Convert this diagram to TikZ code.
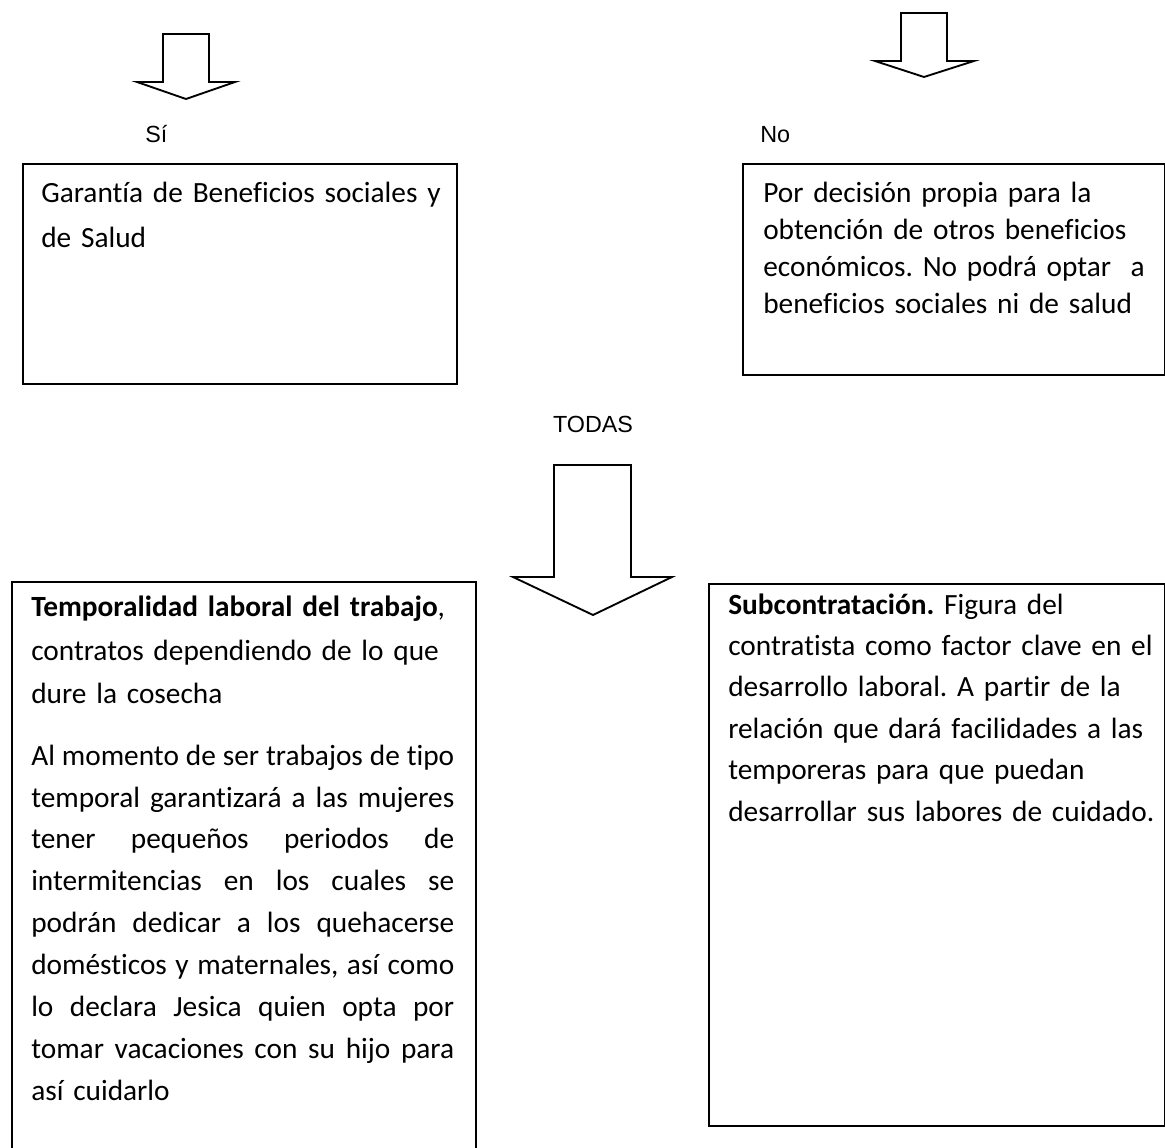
\documentclass[tikz,border=0pt]{standalone}
\usepackage{fontspec}
\setmainfont{Carlito}[Ligatures=NoCommon]
\newfontfamily\labelfont{Liberation Sans}
\frenchspacing
\newlength{\jwidth}
\setlength{\jwidth}{317.25pt}
\newcommand{\jline}[1]{\leavevmode\hbox to \jwidth{\spaceskip=0.23em plus 0.6em minus 0.12em #1}}
\begin{document}
\begin{tikzpicture}[x=0.75pt,y=-0.75pt,
  boxshape/.style={draw=black, line width=1.4pt, rectangle, inner sep=0pt, anchor=north west},
  bodytext/.style={inner sep=0pt, anchor=base west, align=left},
  lbl/.style={inner sep=0pt, font=\labelfont\fontsize{17.5}{21}\selectfont},
  blockarrow/.style={draw=black, line width=1.4pt, line join=miter, fill=white}]
\useasboundingbox (0,0) rectangle (1165,1148);
\clip (0,0) rectangle (1165,1148);
\fill[white] (0,0) rectangle (1165,1148);

% block arrows
\draw[blockarrow] (163,34) -- (209,34) -- (209,82) -- (235,82) -- (186,99) -- (137,82) -- (163,82) -- cycle;
\draw[blockarrow] (901,13) -- (947,13) -- (947,61) -- (974,61) -- (924,77) -- (875,61) -- (901,61) -- cycle;
\draw[blockarrow] (554,465) -- (631,465) -- (631,577) -- (672,577) -- (593,615) -- (513,577) -- (554,577) -- cycle;

% labels
\node[lbl, anchor=base west] (si) at (145,143) {Sí};
\node[lbl, anchor=base west] (no) at (760,143) {No};
\node[lbl, anchor=base] (todas) at (593,433) {TODAS};

% boxes
\node[boxshape, minimum width=325.5pt, minimum height=165pt] (b1) at (22,163) {};
\node[boxshape, minimum width=316.5pt, minimum height=158.25pt] (b2) at (742,163) {};
\node[boxshape, minimum width=348pt, minimum height=441.75pt] (b3) at (11,581) {};
\node[boxshape, minimum width=342pt, minimum height=406.5pt] (b4) at (708,583) {};

% texts
\node[bodytext, text width=307.5pt, font=\fontsize{22}{33.75}\selectfont] (t1) at (41,203)
 {Garantía de Beneficios sociales y\\de Salud};

\node[bodytext, text width=300pt, font=\fontsize{22}{27.75}\selectfont] (t2) at (763,203)
 {Por decisión propia para la\\
  obtención de otros beneficios\\
  económicos. No podrá optar\ \ a\\
  beneficios sociales ni de salud};

\node[bodytext, text width=317.25pt, font=\fontsize{22}{31.5}\selectfont] (t3) at (31,616)
 {\textbf{Temporalidad laboral del trabajo}, \\[1.5pt]
  contratos dependiendo de lo que\\[1.5pt]
  dure la cosecha\\[14.25pt]
  \jline{Al momento de ser trabajos de tipo}\\
  \jline{temporal garantizará a las mujeres}\\
  \jline{tener pequeños periodos de}\\
  \jline{intermitencias en los cuales se}\\
  \jline{podrán dedicar a los quehacerse}\\
  \jline{domésticos y maternales, así como}\\
  \jline{lo declara Jesica quien opta por}\\
  \jline{tomar vacaciones con su hijo para}\\
  así cuidarlo};

\node[bodytext, text width=320pt, font=\fontsize{22}{31.1}\selectfont] (t4) at (728,614)
 {\textbf{Subcontratación.} Figura del\\
  contratista como factor clave en el\\
  desarrollo laboral. A partir de la\\
  relación que dará facilidades a las\\
  temporeras para que puedan\\
  desarrollar sus labores de cuidado.};
\end{tikzpicture}
\end{document}
